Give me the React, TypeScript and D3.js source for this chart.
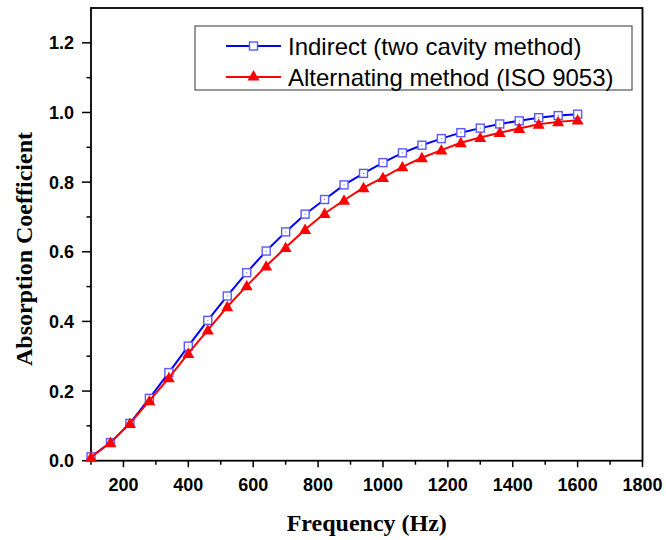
import React from "react";
import * as d3 from "d3";

const freqs = [100,160,220,280,340,400,460,520,580,640,700,760,820,880,940,1000,1060,1120,1180,1240,1300,1360,1420,1480,1540,1600];
const indirect = [0.011,0.052,0.107,0.179,0.253,0.329,0.403,0.473,0.540,0.602,0.657,0.708,0.750,0.792,0.825,0.856,0.884,0.906,0.925,0.942,0.955,0.967,0.976,0.985,0.991,0.995];
const alternating = [0.010,0.052,0.107,0.172,0.238,0.308,0.375,0.442,0.502,0.559,0.612,0.664,0.710,0.748,0.784,0.813,0.844,0.870,0.892,0.913,0.928,0.942,0.954,0.966,0.973,0.978];
const xMajor = [200,400,600,800,1000,1200,1400,1600,1800];
const xMinor = [100,300,500,700,900,1100,1300,1500,1700];
const yMajor = [0.0,0.2,0.4,0.6,0.8,1.0,1.2];
const yMinor = [0.1,0.3,0.5,0.7,0.9,1.1];
const seriesNames = ["Indirect (two cavity method)", "Alternating method (ISO 9053)"];

const L = 91, R = 642.5, T = 8, B = 460.7;

export default function App() {
  const x = d3.scaleLinear().domain([100, 1800]).range([L, R]);
  const y = d3.scaleLinear().domain([0, 1.3]).range([B, T]);
  const line = d3.line<number>().x((_, i) => x(freqs[i])).y(d => y(d));
  const tri = d3.symbol().type(d3.symbolTriangle).size(62)();
  const font = "Liberation Sans, Arial, sans-serif";
  const serif = "Liberation Serif, Times New Roman, serif";
  return (
    <svg width={666} height={540} style={{ position: "absolute", left: 0, top: 0, background: "#fff" }}>
      <rect x={0} y={0} width={666} height={540} fill="#fff" />
      {yMajor.map(v => (
        <g key={"ym" + v}>
          <line x1={L - 9} x2={L} y1={y(v)} y2={y(v)} stroke="#000" strokeWidth={1.5} />
          <text x={L - 17} y={y(v)} dy="0.36em" textAnchor="end" fontFamily={font} fontWeight="bold" fontSize={18}>{v.toFixed(1)}</text>
        </g>
      ))}
      {yMinor.map(v => (
        <line key={"yn" + v} x1={L - 4.5} x2={L} y1={y(v)} y2={y(v)} stroke="#000" strokeWidth={1.5} />
      ))}
      {xMajor.map(v => (
        <g key={"xm" + v}>
          <line x1={x(v)} x2={x(v)} y1={B} y2={B + 6.5} stroke="#000" strokeWidth={1.5} />
          <text x={x(v)} y={B + 30} textAnchor="middle" fontFamily={font} fontWeight="bold" fontSize={18}>{v}</text>
        </g>
      ))}
      {xMinor.map(v => (
        <line key={"xn" + v} x1={x(v)} x2={x(v)} y1={B} y2={B + 4} stroke="#000" strokeWidth={1.5} />
      ))}
      <rect x={L} y={T} width={R - L} height={B - T} fill="none" stroke="#000" strokeWidth={1.8} />
      <path d={line(indirect) || ""} fill="none" stroke="#0000ff" strokeWidth={2} />
      {indirect.map((v, i) => (
        <g key={"b" + i}>
          <rect x={x(freqs[i]) - 4} y={y(v) - 4} width={8} height={8} fill="#fff" stroke="#5a5aff" strokeWidth={1.4} />
          <rect x={x(freqs[i]) - 0.5} y={y(v) - 0.5} width={1} height={1} fill="#5a5aff" />
        </g>
      ))}
      <path d={line(alternating) || ""} fill="none" stroke="#ff0000" strokeWidth={2} />
      {alternating.map((v, i) => (
        <path key={"r" + i} d={tri || ""} transform={`translate(${x(freqs[i])},${y(v) + 1})`} fill="#ff0000" />
      ))}
      <rect x={195} y={26} width={437} height={64} fill="#fff" stroke="#555" strokeWidth={1.2} />
      <line x1={226} x2={281} y1={46} y2={46} stroke="#0000ff" strokeWidth={2} />
      <rect x={249.5} y={42} width={8} height={8} fill="#fff" stroke="#5a5aff" strokeWidth={1.4} />
      <text x={288} y={46} dy="0.36em" fontFamily={font} fontSize={24} fill="#000">{seriesNames[0]}</text>
      <line x1={226} x2={281} y1={77} y2={77} stroke="#ff0000" strokeWidth={2} />
      <path d={tri || ""} transform={`translate(253.5,77)`} fill="#ff0000" />
      <text x={288} y={77} dy="0.36em" fontFamily={font} fontSize={24} fill="#000">{seriesNames[1]}</text>
      <text x={(L + R) / 2} y={531} textAnchor="middle" fontFamily={serif} fontWeight="bold" fontSize={24}>Frequency (Hz)</text>
      <text transform={`translate(31.5,249) rotate(-90)`} textAnchor="middle" fontFamily={serif} fontWeight="bold" fontSize={24}>Absorption Coefficient</text>
    </svg>
  );
}
